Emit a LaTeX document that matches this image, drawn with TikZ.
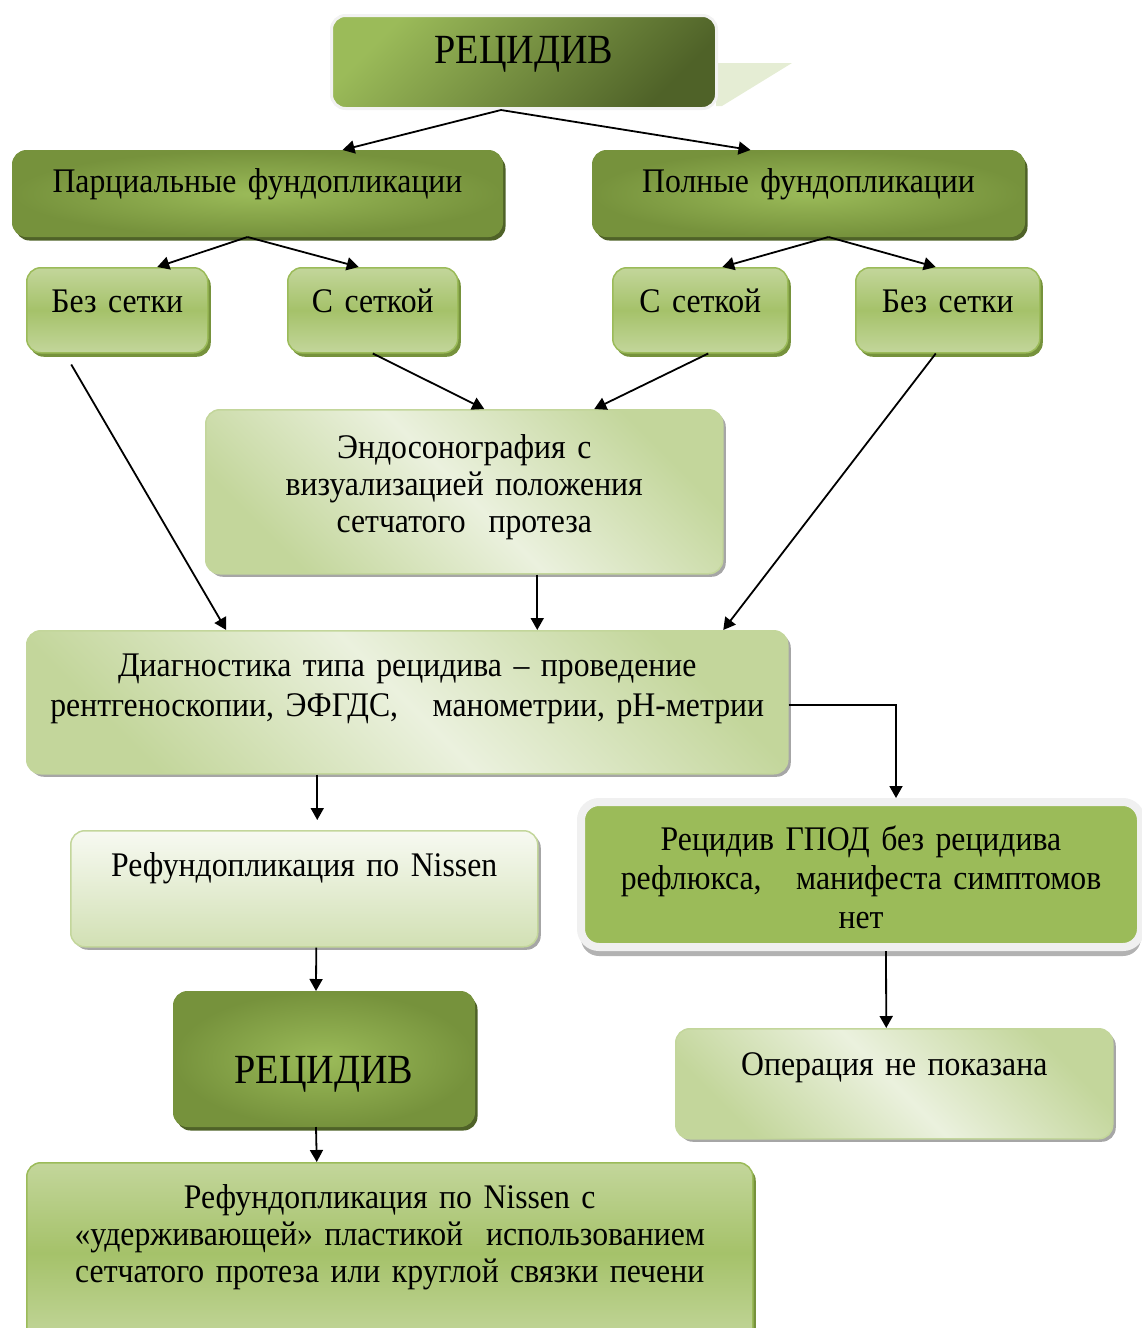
\documentclass[tikz,border=0pt]{standalone}
\usepackage{fontspec}
\setmainfont{Liberation Serif}[FakeStretch=0.92]
\usetikzlibrary{arrows.meta,shadows,positioning}

\definecolor{gdark}{HTML}{4F6228}
\definecolor{gmid}{HTML}{76923C}
\definecolor{gbase}{HTML}{9BBB59}
\definecolor{glight}{HTML}{C3D69B}
\definecolor{gpale}{HTML}{EBF1DE}

\begin{document}
\begin{tikzpicture}[x=1pt,y=-1pt,
    box/.style={rounded corners=14pt,inner sep=0pt,align=center,anchor=north west,
      font=\fontsize{34.5}{38}\selectfont},
    darkbox/.style={box,draw=gmid,line width=1pt,inner color=gbase,outer color=gmid,
      drop shadow={shadow xshift=3pt,shadow yshift=-4pt,fill=gdark,opacity=1}},
    smallbox/.style={box,draw=gbase,line width=1.5pt,top color=glight,bottom color=glight,
      middle color=gbase!90,
      drop shadow={shadow xshift=3pt,shadow yshift=-4pt,fill=gmid,opacity=1}},
    palebox/.style={box,draw=glight,line width=1.5pt,top color=glight,bottom color=glight,
      middle color=gpale,shading angle=-45,
      drop shadow={shadow xshift=3pt,shadow yshift=-3pt,fill=black!35,opacity=1}},
    arr/.style={line width=1.8pt,-{Triangle[length=12pt,width=13pt]}}]

  \useasboundingbox (0,0) rectangle (1141,1328);

  % top
  \fill[gpale!85!glight] (716,63) -- (792,63) -- (722,106) -- (716,106) -- cycle;
  \node[box,draw=black!5,line width=3pt,top color=gbase,bottom color=gdark,shading angle=45,
    font=\fontsize{41.5}{44}\selectfont,text width=385pt,text height=48pt,text depth=45pt]
    (top) at (330,14) {РЕЦИДИВ};

  % the fundoplications
  \node[darkbox,text width=490pt,text height=42pt,text depth=44pt]
    (parc) at (12,150) {Парциальные фундопликации};
  \node[darkbox,text width=432pt,text height=42pt,text depth=44pt]
    (poln) at (592,150) {Полные фундопликации};

  \node[smallbox,text width=181pt,text height=45pt,text depth=40pt]
    (bez1) at (26,267) {Без сетки};
  \node[smallbox,text width=170pt,text height=45pt,text depth=40pt]
    (sset1) at (287,267) {С сеткой};
  \node[smallbox,text width=175pt,text height=45pt,text depth=40pt]
    (sset2) at (612,267) {С сеткой};
  \node[smallbox,text width=184pt,text height=45pt,text depth=40pt]
    (bez2) at (855,267) {Без сетки};

  % diagnostics
  \node[palebox,text width=517pt,text height=49pt,text depth=115pt,
    font=\fontsize{34.5}{37}\selectfont]
    (endo) at (205,409) {Эндосонография с\\визуализацией положения\\сетчатого\ \ протеза};
  \node[palebox,text width=761pt,text height=46pt,text depth=97pt,
    font=\fontsize{34.5}{40}\selectfont]
    (diag) at (26,630) {Диагностика типа рецидива -- проведение\\рентгеноскопии, ЭФГДС,\ \ \ манометрии, рН-метрии};

  % left branch
  \node[box,draw=glight,line width=1.5pt,top color=white!60!gpale,bottom color=glight!75!white,
    drop shadow={shadow xshift=3pt,shadow yshift=-3pt,fill=black!35,opacity=1},
    text width=467pt,text height=46pt,text depth=70pt]
    (nissen) at (70,830) {Рефундопликация по Nissen};
  \node[darkbox,font=\fontsize{41.5}{44}\selectfont,text width=301pt,text height=92pt,text depth=43pt]
    (rec2) at (173,991) {РЕЦИДИВ};
  \node[smallbox,font=\fontsize{34.5}{37}\selectfont,text width=726pt,text height=46pt,text depth=134pt]
    (bottom) at (26,1162) {Рефундопликация по Nissen с\\«удерживающей» пластикой\ \ использованием\\сетчатого протеза или круглой связки печени};

  % right branch
  \node[box,draw=black!6,line width=8pt,fill=gbase,rounded corners=18pt,
    drop shadow={shadow xshift=0pt,shadow yshift=-9pt,fill=black!30,opacity=1},
    font=\fontsize{34.5}{39}\selectfont,text width=560pt,text height=48pt,text depth=97pt]
    (gpod) at (577,798) {Рецидив ГПОД без рецидива\\рефлюкса,\ \ \ манифеста симптомов\\нет};
  \node[palebox,text width=437pt,text height=47pt,text depth=63pt]
    (oper) at (675,1028) {Операция не показана};

  % arrows
  \draw[arr] ([xshift=-23pt]top.south) -- ([xshift=85pt]parc.north);
  \draw[arr] ([xshift=-23pt]top.south) -- ([xshift=-58pt]poln.north);
  \draw[arr] ([xshift=-10pt]parc.south) -- ([xshift=40pt]bez1.north);
  \draw[arr] ([xshift=-10pt]parc.south) -- ([xshift=-14pt]sset1.north);
  \draw[arr] ([xshift=20pt]poln.south) -- ([xshift=22pt]sset2.north);
  \draw[arr] ([xshift=20pt]poln.south) -- ([xshift=-12pt]bez2.north);
  \draw[arr] (sset1.south) -- ([xshift=20pt]endo.north);
  \draw[arr] ([xshift=8pt]sset2.south) -- ([xshift=130pt]endo.north);
  \draw[arr] ([xshift=-46pt,yshift=-11pt]bez1.south) -- ([xshift=-181pt]diag.north);
  \draw[arr] ([xshift=-12pt]bez2.south) -- ([xshift=316pt]diag.north);
  \draw[arr] ([xshift=73pt]endo.south) -- ([xshift=130pt]diag.north);
  \draw[arr] ([yshift=-3pt]diag.east) -| ([xshift=35pt]gpod.north);
  \draw[arr] ([xshift=-90pt]diag.south) -- ([xshift=13pt,yshift=10pt]nissen.north);
  \draw[arr] ([xshift=12pt]nissen.south) -- ([xshift=-8pt]rec2.north);
  \draw[arr] ([xshift=-8pt]rec2.south) -- ([xshift=-73pt]bottom.north);
  \draw[arr] ([xshift=25pt]gpod.south) -- ([xshift=-8pt]oper.north);

\end{tikzpicture}
\end{document}
